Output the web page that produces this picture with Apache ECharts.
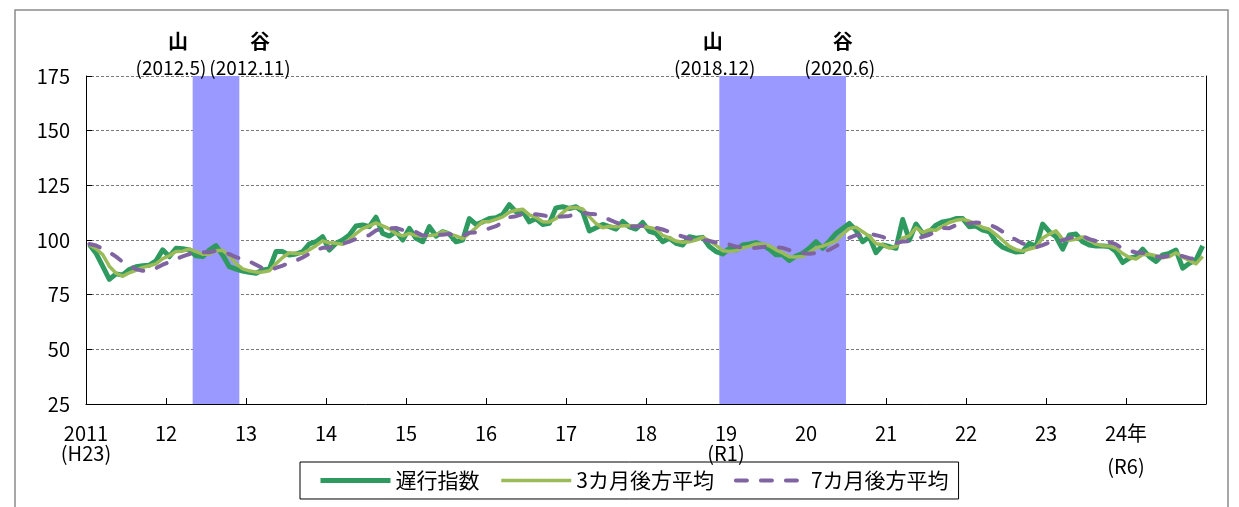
<!DOCTYPE html>
<html><head><meta charset="utf-8">
<script src="https://cdn.jsdelivr.net/npm/echarts@6/dist/echarts.min.js"></script>
<style>html,body{margin:0;padding:0;background:#fff;}#c{width:1239px;height:507px;}</style>
</head><body><div id="c"></div>
<script>
// ---- data ----
const seriesNames = ['遅行指数', '3カ月後方平均', '7カ月後方平均'];
const xTickLabels = ['2011|(H23)', '12', '13', '14', '15', '16', '17', '18', '19|(R1)', '20', '21', '22', '23', '24年|(R6)', ''];
const yTicks = [25, 50, 75, 100, 125, 150, 175];
const lagIndex = [
  98, 94, 88, 82, 84.5, 84, 86.5, 87.8, 88.2, 88.5, 90.5, 95.5,
  92.4, 96.2, 96, 95.4, 92.8, 92.4, 95.4, 97.4, 93.1, 87.8, 86.7, 85.8,
  85.2, 84.8, 86.3, 86.7, 94.7, 94.7, 93.1, 93.6, 94.7, 98.2, 99.2, 101.5,
  95.4, 98.5, 100, 102.3, 106.4, 106.9, 106.1, 110.4, 103, 101.8, 103.8, 100,
  105.3, 100.8, 99.2, 106.1, 101.8, 103.8, 102.7, 99.2, 100, 109.8, 107.1, 108.3,
  109.8, 110.2, 111.7, 116.2, 112.9, 113.2, 108.3, 109.8, 107.1, 107.6, 114.7, 115.2,
  114.4, 115.2, 112.9, 104.1, 105.6, 107.1, 106.1, 105, 108.5, 106, 105, 108,
  104, 103, 99.2, 100.8, 98.5, 97.7, 101.5, 100.8, 101.2, 97, 94.7, 93.6,
  96.2, 95.4, 97.7, 98.2, 98.8, 97.7, 95.8, 93.2, 93.2, 90.6, 92.7, 93.9,
  96.2, 99.2, 96.2, 99.5, 103, 105.3, 107.6, 104.5, 99.2, 101.5, 94.2, 97.7,
  97, 96.2, 109.4, 100, 107.3, 103, 103.8, 106.8, 108.3, 108.8, 109.8, 109.8,
  106.1, 106.4, 104.5, 103.8, 99.2, 96.7, 95.5, 94.5, 94.7, 98.5, 97, 107.3,
  103.8, 101.5, 95.8, 102.3, 102.7, 99.2, 97.7, 97.3, 97.3, 97, 94.7, 89.7,
  91.7, 92.4, 95.8, 92.4, 90.2, 93.2, 93.9, 95.4, 87.1, 89.4, 90.9, 97.3
];
const avg3 = [
  97.7, 96, 93.3, 88, 84.8, 83.5, 85, 86.1, 87.5, 88.2, 89.1, 91.5,
  92.8, 94.7, 94.9, 95.9, 94.7, 93.5, 93.5, 95.1, 95.3, 92.8, 89.2, 86.8,
  85.9, 85.3, 85.4, 85.9, 89.2, 92, 94.2, 93.8, 93.8, 95.5, 97.4, 99.6,
  98.7, 98.5, 98, 100.3, 102.9, 105.2, 106.5, 107.8, 106.5, 105.1, 102.9, 101.9,
  103, 102, 101.8, 102, 102.4, 103.9, 102.8, 101.9, 100.6, 103, 105.6, 108.4,
  108.4, 109.4, 110.6, 112.7, 113.6, 114.1, 111.5, 110.4, 108.4, 108.2, 109.8, 112.5,
  114.8, 114.9, 114.2, 110.7, 107.5, 105.6, 106.3, 106.1, 106.5, 106.5, 106.5, 106.3,
  105.7, 105, 102.1, 101, 99.5, 99, 99.2, 100, 101.2, 99.7, 97.6, 95.1,
  94.8, 95.1, 96.4, 97.1, 98.2, 98.2, 97.4, 95.6, 94.1, 92.3, 92.2, 92.4,
  94.3, 96.4, 97.2, 98.3, 99.6, 102.6, 105.3, 105.8, 103.8, 101.7, 98.3, 97.8,
  96.3, 97, 100.9, 101.9, 105.6, 103.4, 104.7, 104.5, 106.3, 108, 109, 109.5,
  108.6, 107.4, 105.7, 104.9, 102.5, 99.9, 97.1, 95.6, 94.9, 95.9, 96.7, 100.9,
  102.7, 104.2, 100.4, 99.9, 100.3, 101.4, 99.9, 98.1, 97.4, 97.2, 96.3, 93.8,
  92, 91.3, 93.3, 93.5, 92.8, 91.9, 92.4, 94.2, 92.1, 90.6, 89.1, 92.5
];
const avg7 = [
  98.2, 97.5, 96, 94.4, 92.4, 90, 88.1, 86.7, 85.9, 85.9, 87.1, 88.7,
  89.9, 91.3, 92.5, 93.5, 94.1, 94.4, 94.4, 95.1, 94.6, 93.5, 92.2, 91.2,
  90.2, 88.7, 87.1, 86.2, 87.2, 88.3, 89.4, 90.6, 92, 93.7, 95.5, 96.4,
  96.5, 97.3, 98.2, 99.3, 100.5, 101.6, 102.2, 104.4, 105, 105.3, 105.5, 104.6,
  104.3, 103.6, 102, 102.4, 102.4, 102.4, 102.8, 101.9, 101.8, 103.3, 103.5, 104.4,
  105.3, 106.3, 108.1, 110.4, 110.9, 111.8, 111.8, 111.8, 111.3, 110.7, 110.5, 110.8,
  111, 112, 112.4, 112, 111.7, 110.6, 109.3, 108, 107, 106.1, 106.2, 106.5,
  106.1, 105.6, 104.8, 103.7, 102.6, 101.6, 100.7, 100.2, 100, 99.6, 98.8, 98.1,
  97.9, 97, 96.5, 96.1, 96.4, 96.8, 97.1, 96.7, 96.4, 95.4, 94.6, 93.9,
  93.7, 94.1, 94.6, 95.5, 97.2, 99, 101, 102.2, 102.2, 102.9, 102.2, 101.4,
  100.2, 98.6, 99.3, 99.4, 100.3, 101.5, 102.4, 103.8, 105.5, 105.4, 106.8, 107.2,
  107.6, 108, 107.7, 107, 105.7, 103.8, 101.7, 100.1, 98.4, 97.6, 96.6, 97.7,
  98.8, 99.6, 99.8, 100.9, 101.5, 101.8, 100.4, 99.5, 98.9, 99.1, 98, 96.1,
  95.1, 94.3, 94.1, 93.4, 92.4, 92.2, 92.8, 93.3, 92.6, 91.7, 91.4, 92.5
];
// recession bands: [start month index, end month index (exclusive)] counted from 2011.1
const bandMonths = [[16, 23], [95, 114]];
// turning points
const turnMonths = [16, 22, 95, 113];
const turnMarks = ['山', '谷', '山', '谷'];
const turnDates = ['(2012.5)', '(2012.11)', '(2018.12)', '(2020.6)'];

// ---- layout/style ----
const FONT = '"Noto Sans CJK JP", "Noto Sans", sans-serif';
const markDx = [-18, 24, -10, 0];
const dateDx = [-25, 14, -8, -3];

function toPts(arr) { return arr.map((v, i) => [i + 0.5, v]); }

const chart = echarts.init(document.getElementById('c'), null, { renderer: 'canvas' });

const option = {
  animation: false,
  backgroundColor: '#fff',
  textStyle: { fontFamily: FONT },
  grid: { left: 86, right: 33, top: 76, bottom: 103, containLabel: false },
  legend: {
    data: seriesNames,
    left: 300, top: 462,
    itemWidth: 70, itemHeight: 14, itemGap: 20,
    padding: [8, 10, 8, 18],
    borderColor: '#000', borderWidth: 1,
    itemStyle: { opacity: 0, color: 'rgba(0,0,0,0)', borderWidth: 0 },
    lineStyle: { width: 'inherit' },
    textStyle: { fontSize: 21, color: '#000', fontFamily: FONT },
    selectedMode: false
  },
  xAxis: {
    type: 'value', min: 0, max: 168, interval: 12,
    axisLine: { show: true, onZero: false, lineStyle: { color: '#000', width: 1 } },
    axisTick: { show: true, inside: true, length: 6, lineStyle: { color: '#000' } },
    splitLine: { show: false },
    axisLabel: {
      margin: 19, showMaxLabel: false,
      formatter: function (v) {
        const t = xTickLabels[Math.round(v / 12)] || '';
        const parts = t.split('|');
        if (parts.length === 1) return '{a|' + parts[0] + '}';
        if (parts[0].indexOf('年') >= 0) return '{a|' + parts[0] + '}\n{b|' + parts[1] + '}';
        return '{a|' + parts[0] + '}\n{a|' + parts[1] + '}';
      },
      rich: {
        a: { fontSize: 20, lineHeight: 20, color: '#000', fontFamily: FONT },
        b: { fontSize: 20, lineHeight: 46, color: '#000', fontFamily: FONT }
      }
    }
  },
  yAxis: [{
    type: 'value', min: yTicks[0], max: yTicks[yTicks.length - 1], interval: 25,
    axisLine: { show: true, lineStyle: { color: '#000', width: 1 } },
    axisTick: { show: true, inside: true, length: 6, lineStyle: { color: '#000' } },
    axisLabel: { fontSize: 20, color: '#000', margin: 16, fontFamily: FONT },
    splitLine: { show: true, lineStyle: { color: '#7a7a7a', width: 1, type: [3, 2] } }
  }, {
    type: 'value', position: 'right', min: 25, max: 175, interval: 25,
    axisLine: { show: true, lineStyle: { color: '#000', width: 1 } },
    axisTick: { show: false }, axisLabel: { show: false }, splitLine: { show: false }
  }],
  series: [
    {
      name: seriesNames[0], type: 'line', data: toPts(lagIndex),
      symbol: 'none', showSymbol: false, z: 3,
      color: '#2f9a5f',
      lineStyle: { color: '#2f9a5f', width: 5, join: 'round' },
      markArea: {
        silent: true,
        itemStyle: { color: '#9999ff', opacity: 1 },
        data: bandMonths.map(b => [{ xAxis: b[0] }, { xAxis: b[1] }])
      }
    },
    {
      name: seriesNames[1], type: 'line', data: toPts(avg3),
      symbol: 'none', showSymbol: false, z: 4,
      color: '#9bbb59',
      lineStyle: { color: '#9bbb59', width: 3.5, join: 'round' }
    },
    {
      name: seriesNames[2], type: 'line', data: toPts(avg7),
      symbol: 'none', showSymbol: false, z: 5,
      color: '#8064a2',
      lineStyle: { color: '#8064a2', width: 4, type: [11, 14], cap: 'round' }
    }
  ]
};
chart.setOption(option);

// annotations positioned through the axes
const g = [{
  type: 'rect', z: -10, silent: true,
  shape: { x: 15, y: 10, width: 1213, height: 560 },
  style: { fill: 'none', stroke: '#8c8c8c', lineWidth: 1.5 }
}];
turnMonths.forEach((m, k) => {
  const p = chart.convertToPixel({ gridIndex: 0 }, [m + 0.5, 175]);
  g.push({
    type: 'text', z: 10, silent: true,
    x: p[0] + markDx[k], y: p[1] - 35,
    style: { text: turnMarks[k], fill: '#000', font: 'bold 20px ' + FONT, align: 'center', verticalAlign: 'middle', textAlign: 'center', textVerticalAlign: 'middle' }
  });
  g.push({
    type: 'text', z: 10, silent: true,
    x: p[0] + dateDx[k], y: p[1] - 8,
    style: { text: turnDates[k], fill: '#000', font: '19px ' + FONT, align: 'center', verticalAlign: 'middle', textAlign: 'center', textVerticalAlign: 'middle' }
  });
});
chart.setOption({ graphic: g });
</script>
</body></html>
